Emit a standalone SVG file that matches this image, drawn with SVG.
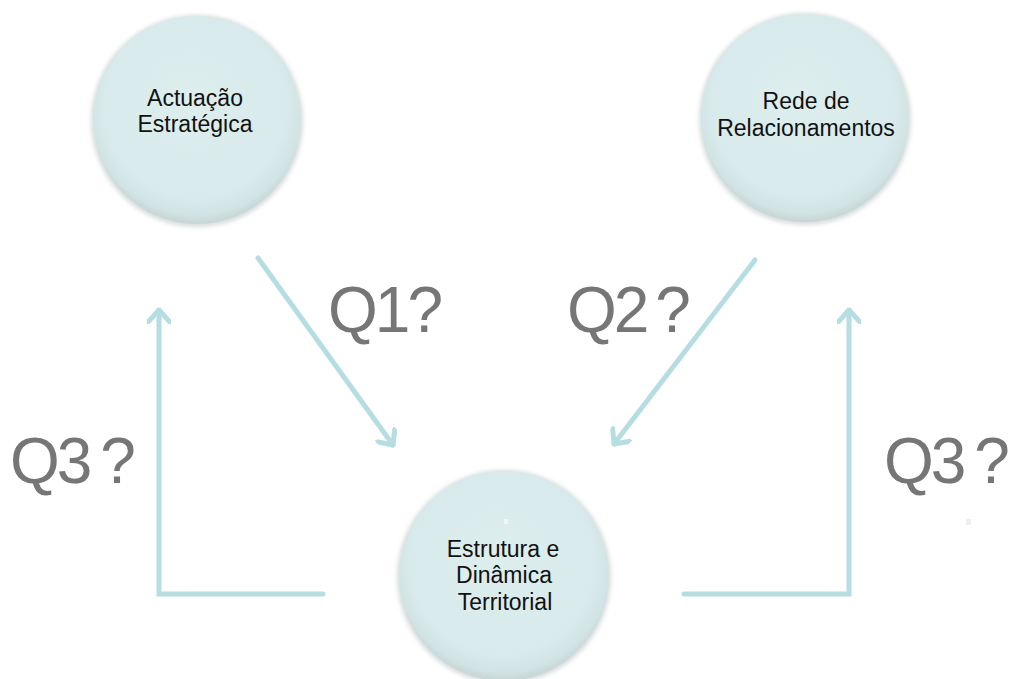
<svg xmlns="http://www.w3.org/2000/svg" width="1015" height="679" viewBox="0 0 1015 679">
  <defs>
    <radialGradient id="ball" cx="50%" cy="45%" r="55%" fx="45%" fy="38%">
      <stop offset="0" stop-color="#deeeef"/>
      <stop offset="0.8" stop-color="#d8eaeb"/>
      <stop offset="0.93" stop-color="#d2e3e4"/>
      <stop offset="1" stop-color="#c6d4d5"/>
    </radialGradient>
    <filter id="soft" x="-20%" y="-20%" width="140%" height="140%">
      <feGaussianBlur stdDeviation="2"/>
    </filter>
    <marker id="head" viewBox="-14 -12 16 24" markerWidth="16" markerHeight="24" refX="0" refY="0" orient="auto" markerUnits="userSpaceOnUse">
      <path d="M-12,-11 L0,0 L-12,11" fill="none" stroke="#b6dde1" stroke-width="5" stroke-linecap="round" stroke-linejoin="round"/>
    </marker>
  </defs>
  <style>
    .conn { fill: none; stroke: #b6dde1; stroke-width: 5; stroke-linecap: round; stroke-linejoin: miter; }
    .rim { fill: #b8c1c1; filter: url(#soft); opacity: 0.55; }
    .ball { fill: url(#ball); }
    .lbl { font-family: "Liberation Sans", Arial, sans-serif; font-size: 23px; fill: #111; text-anchor: middle; }
    .q { font-family: "Liberation Sans", Arial, sans-serif; font-size: 64px; fill: #767676; letter-spacing: -3px; }
  </style>

  <rect width="1015" height="679" fill="#ffffff"/>

  <!-- connectors -->
  <g id="connectors">
    <path class="conn" d="M258,258 L393,445" marker-end="url(#head)"/>
    <path class="conn" d="M755,260 L614,444" marker-end="url(#head)"/>
    <path class="conn" d="M323,594 L159,594 L159,310" marker-end="url(#head)"/>
    <path class="conn" d="M684,594 L849,594 L849,310" marker-end="url(#head)"/>
  </g>

  <!-- question labels -->
  <g id="questions">
    <text class="q" x="328" y="332">Q1?</text>
    <text class="q" x="567" y="332" word-spacing="-6">Q2 ?</text>
    <text class="q" x="10" y="483" word-spacing="-4">Q3 ?</text>
    <text class="q" x="884" y="483" word-spacing="-4">Q3 ?</text>
  </g>

  <!-- nodes -->
  <g id="node-actuacao">
    <circle class="rim" cx="197" cy="121" r="106"/>
    <circle class="ball" cx="197" cy="120" r="104"/>
    <text class="lbl" x="195" y="106">Actuação</text>
    <text class="lbl" x="195" y="132">Estratégica</text>
  </g>

  <g id="node-rede">
    <circle class="rim" cx="805" cy="119" r="106"/>
    <circle class="ball" cx="805" cy="118" r="104"/>
    <text class="lbl" x="806" y="109">Rede de</text>
    <text class="lbl" x="806" y="136">Relacionamentos</text>
  </g>

  <g id="node-estrutura">
    <circle class="rim" cx="504" cy="577" r="107"/>
    <circle class="ball" cx="504" cy="576" r="105"/>
    <rect x="504" y="519" width="4" height="5" fill="#f4f6f6"/>
    <text class="lbl" x="503" y="557">Estrutura e</text>
    <text class="lbl" x="504" y="583">Dinâmica</text>
    <text class="lbl" x="505" y="610">Territorial</text>
  </g>

  <rect x="966" y="519" width="5" height="6" fill="#eeeeee"/>
</svg>
